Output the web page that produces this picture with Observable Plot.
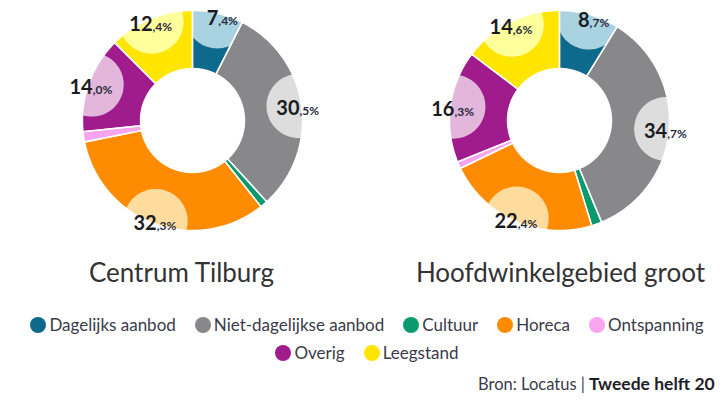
<!DOCTYPE html>
<html>
<head>
<meta charset="utf-8">
<script src="https://cdn.jsdelivr.net/npm/d3@7"></script>
<script src="https://cdn.jsdelivr.net/npm/@observablehq/plot@0.6"></script>
<style>
  html, body { margin: 0; padding: 0; background: #fff; }
  body { width: 722px; height: 401px; overflow: hidden; position: relative; font-family: Lato, "Open Sans", sans-serif; }
  #chart { position: absolute; left: 0; top: 0; }
  .legend-row { position: absolute; left: 0; width: 722px; display: flex; justify-content: center; gap: 0 19px; font-size: 17px; color: #3b3b4a; line-height: 20px; padding-left: 12px; box-sizing: border-box; }
  .legend-item { display: flex; align-items: center; white-space: nowrap; }
  .swatch { width: 16px; height: 16px; border-radius: 50%; margin-right: 3px; display: inline-block; }
  #source { position: absolute; left: 478px; top: 373px; font-size: 16.5px; color: #3b3b4a; white-space: nowrap; }
  #source b { font-size: 17.5px; color: #1e1e28; }
</style>
</head>
<body>
<div id="chart"></div>
<div id="legend"></div>
<div id="source"></div>
<script>
// ---- data ----
const categories = ["Dagelijks aanbod", "Niet-dagelijkse aanbod", "Cultuur", "Horeca", "Ontspanning", "Overig", "Leegstand"];
const colors = ["#0d6a8d", "#88888b", "#0b9a6b", "#ff8c00", "#f8a4ee", "#a01b8c", "#ffe500"];
const lightColors = ["#aad3e2", "#dddddd", null, "#fedc9d", null, "#e3b6dc", "#ffff9b"];
const areas = ["Centrum Tilburg", "Hoofdwinkelgebied groot"];
const centrumTilburg = [7.4, 30.5, 1.1, 32.3, 1.5, 14.0, 12.4];
const hoofdwinkelgebiedGroot = [8.7, 34.7, 1.5, 22.4, 1.0, 16.3, 14.6];
const seriesValues = [centrumTilburg, hoofdwinkelgebiedGroot];
const labelled = [true, true, false, true, false, true, true];
const legendRows = [[0, 1, 2, 3, 4], [5, 6]];
const sourceText = "Bron: Locatus";
const sourceBold = "Tweede helft 20";

// ---- layout ----
const W = 722, H = 295;
const centers = [[192, 120], [559, 120]];
const titleX = [181, 560], titleY = 281;
const R = 110, r0 = 52, labelR = 107, bubbleR = 32;

function pt(c, a, rad) { return [c[0] + rad * Math.sin(a), c[1] - rad * Math.cos(a)]; }

function intersect(P, Q, A, B) {
  const x1 = P[0], y1 = P[1], x2 = Q[0], y2 = Q[1], x3 = A[0], y3 = A[1], x4 = B[0], y4 = B[1];
  const den = (x1 - x2) * (y3 - y4) - (y1 - y2) * (x3 - x4);
  const t = ((x1 - x3) * (y3 - y4) - (y1 - y3) * (x3 - x4)) / den;
  return [x1 + t * (x2 - x1), y1 + t * (y2 - y1)];
}
function clipPoly(subject, clip) {
  let area = 0;
  for (let i = 0; i < clip.length; i++) {
    const a = clip[i], b = clip[(i + 1) % clip.length];
    area += a[0] * b[1] - b[0] * a[1];
  }
  const s = Math.sign(area);
  let out = subject;
  for (let i = 0; i < clip.length; i++) {
    const A = clip[i], B = clip[(i + 1) % clip.length];
    const inside = p => s * ((B[0] - A[0]) * (p[1] - A[1]) - (B[1] - A[1]) * (p[0] - A[0])) >= 0;
    const input = out; out = [];
    for (let j = 0; j < input.length; j++) {
      const P = input[j], Q = input[(j + 1) % input.length];
      const pin = inside(P), qin = inside(Q);
      if (pin) { out.push(P); if (!qin) out.push(intersect(P, Q, A, B)); }
      else if (qin) out.push(intersect(P, Q, A, B));
    }
    if (!out.length) break;
  }
  return out;
}

const slicePts = [], bubblePts = [], labels = [];
seriesValues.forEach((vals, di) => {
  const c = centers[di];
  const total = d3.sum(vals);
  let acc = 0;
  vals.forEach((v, i) => {
    const a0 = acc / total * 2 * Math.PI;
    acc += v;
    const a1 = acc / total * 2 * Math.PI;
    const id = areas[di] + "|" + categories[i];
    const n = Math.max(2, Math.ceil((a1 - a0) / 0.01));
    const outer = d3.range(n + 1).map(k => pt(c, a0 + (a1 - a0) * k / n, R));
    const inner = d3.range(n + 1).map(k => pt(c, a1 - (a1 - a0) * k / n, r0));
    outer.concat(inner).forEach(p => slicePts.push({id, x: p[0], y: p[1], color: colors[i]}));
    if (labelled[i]) {
      const am = (a0 + a1) / 2;
      const bc = pt(c, am, labelR);
      const circle = d3.range(96).map(k => [bc[0] + bubbleR * Math.cos(k / 96 * 2 * Math.PI), bc[1] + bubbleR * Math.sin(k / 96 * 2 * Math.PI)]);
      const wedge = [c].concat(outer);
      clipPoly(circle, wedge).forEach(p => bubblePts.push({id, x: p[0], y: p[1], color: lightColors[i]}));
      const [intPart, decPart] = v.toFixed(1).split(".");
      labels.push({x: bc[0] + 1, y: bc[1] + 9, big: intPart, small: "," + decPart + "%"});
    }
  });
});

const titles = areas.map((t, i) => ({x: titleX[i], y: titleY, text: t}));

const plot = Plot.plot({
  width: W, height: H,
  margin: 0,
  x: {type: "linear", domain: [0, W], range: [0, W], axis: null},
  y: {type: "linear", domain: [0, H], range: [0, H], axis: null},
  style: {background: "transparent", overflow: "visible"},
  marks: [
    Plot.line(slicePts, {x: "x", y: "y", z: "id", fill: "color", stroke: "none", curve: "linear-closed"}),
    Plot.line(bubblePts, {x: "x", y: "y", z: "id", fill: "color", stroke: "none", curve: "linear-closed"}),
    Plot.line(slicePts, {x: "x", y: "y", z: "id", fill: "none", stroke: "white", strokeWidth: 1.4, curve: "linear-closed"}),
    Plot.text(labels, {x: "x", y: "y", text: "big", textAnchor: "end", lineAnchor: "bottom", fontSize: 20, fontWeight: 700, fill: "#1b1b22", fontFamily: "Lato"}),
    Plot.text(labels, {x: "x", y: "y", text: "small", textAnchor: "start", lineAnchor: "bottom", fontSize: 12, fontWeight: 700, fill: "#2a2a3a", fontFamily: "Lato"}),
    Plot.text(titles, {x: "x", y: "y", text: "text", textAnchor: "middle", lineAnchor: "bottom", fontSize: 26, fill: "#333", fontFamily: "Lato"})
  ]
});
document.getElementById("chart").appendChild(plot);

// legend
const legend = document.getElementById("legend");
legendRows.forEach((row, ri) => {
  const div = document.createElement("div");
  div.className = "legend-row";
  div.style.top = (315 + ri * 28) + "px";
  row.forEach(i => {
    const item = document.createElement("span");
    item.className = "legend-item";
    const sw = document.createElement("span");
    sw.className = "swatch";
    sw.style.background = colors[i];
    item.appendChild(sw);
    item.appendChild(document.createTextNode(categories[i]));
    div.appendChild(item);
  });
  legend.appendChild(div);
});
const src = document.getElementById("source");
src.appendChild(document.createTextNode(sourceText + " | "));
const b = document.createElement("b");
b.textContent = sourceBold;
src.appendChild(b);
</script>
</body>
</html>
